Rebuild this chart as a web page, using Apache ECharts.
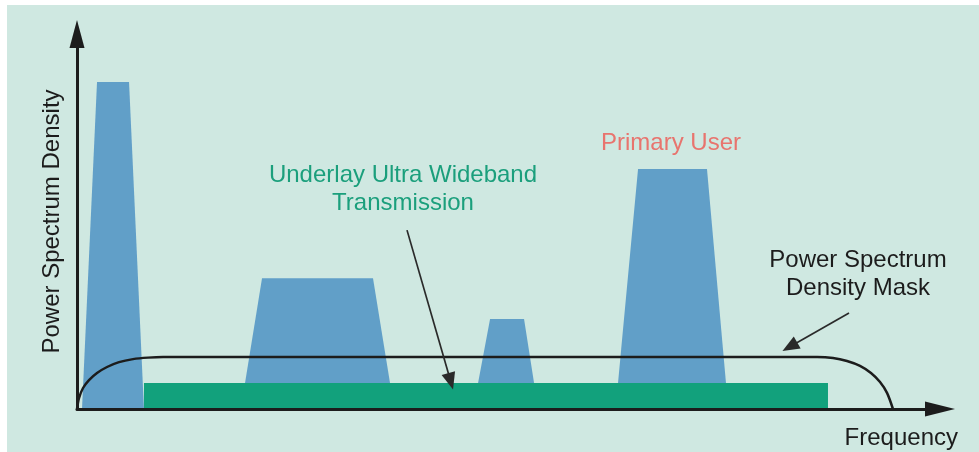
<!DOCTYPE html>
<html>
<head>
<meta charset="utf-8">
<script src="https://cdn.jsdelivr.net/npm/echarts@6/dist/echarts.min.js"></script>
<style>
html,body{margin:0;padding:0;background:#ffffff;}
#chart{width:979px;height:452px;}
</style>
</head>
<body>
<div id="chart"></div>
<script>
// Data (frequency units 0-100 on x, PSD units 0-100 on y)
const peakNarrowHigh = [[0.58, 0], [2.32, 87.2], [6.03, 87.2], [7.76, 0]];
const peakWide = [[19.47, 6.93], [21.44, 34.9], [34.30, 34.9], [36.27, 6.93]];
const peakSmall = [[46.47, 6.93], [47.86, 24.0], [51.80, 24.0], [52.96, 6.93]];
const peakPrimary = [[62.69, 6.93], [65.01, 64.0], [73.00, 64.0], [75.20, 6.93]];
const uwbBand = [[7.76, 6.93], [87.02, 6.93]];
const psdMask = [[0, 0], [0.23, 2.9], [0.70, 5.6], [1.39, 7.7], [2.32, 9.6], [3.48, 11.2], [4.87, 12.5], [6.49, 13.3], [8.23, 13.7], [9.97, 13.87], [85.75, 13.87], [87.60, 13.6], [89.22, 12.8], [90.73, 11.5], [92.00, 9.6], [93.05, 7.2], [93.86, 4.3], [94.55, 0]];
const maskArrow = [[89.46, 25.6], [82.60, 16.6]];
const uwbArrow = [[38.24, 47.7], [43.30, 7.4]];
const axisNames = ['Frequency', 'Power Spectrum Density'];
const labelPrimary = 'Primary User';
const labelUwb = 'Underlay Ultra Wideband\nTransmission';
const labelMask = 'Power Spectrum\nDensity Mask';

const FONT = '"Liberation Sans", Arial, Helvetica, sans-serif';
const BLUE = '#619fc8';
const GREEN = '#12a17c';
const DARK = '#1c1c1c';

function areaSeries(name, data, color, z) {
  return {
    name: name, type: 'line', data: data, z: z,
    showSymbol: false, symbol: 'none', silent: true,
    lineStyle: { width: 0 },
    areaStyle: { color: color, opacity: 1 },
    animation: false
  };
}

const chart = echarts.init(document.getElementById('chart'), null, { renderer: 'canvas' });
chart.setOption({
  animation: false,
  backgroundColor: '#cfe8e1',
  grid: { left: 77, right: 39, top: 34, bottom: 43 },
  xAxis: {
    type: 'value', min: 0, max: 100, z: 10,
    name: axisNames[0], nameLocation: 'end', nameGap: 18,
    nameTextStyle: { fontFamily: FONT, fontSize: 24, color: DARK, align: 'right', verticalAlign: 'top', padding: [17, 0, 0, 0] },
    axisLine: { show: true, symbol: ['none', 'triangle'], symbolSize: [15, 30], symbolOffset: [0, 0], lineStyle: { color: DARK, width: 3 } },
    axisTick: { show: false }, axisLabel: { show: false }, splitLine: { show: false }
  },
  yAxis: {
    type: 'value', min: 0, max: 100, z: 10,
    name: axisNames[1], nameLocation: 'middle', nameGap: 13, nameRotate: 90,
    nameTextStyle: { fontFamily: FONT, fontSize: 24, color: DARK },
    axisLine: { show: true, symbol: ['none', 'triangle'], symbolSize: [15, 28], symbolOffset: [0, 0], lineStyle: { color: DARK, width: 3 } },
    axisTick: { show: false }, axisLabel: { show: false }, splitLine: { show: false }
  },
  series: [
    areaSeries('peak1', peakNarrowHigh, BLUE, 2),
    areaSeries('peak2', peakWide, BLUE, 2),
    areaSeries('peak3', peakSmall, BLUE, 2),
    areaSeries('primary', peakPrimary, BLUE, 2),
    areaSeries('uwb', uwbBand, GREEN, 3),
    {
      name: 'mask', type: 'line', data: psdMask, z: 4,
      showSymbol: false, symbol: 'none', silent: true, smooth: 0.3,
      lineStyle: { color: DARK, width: 2.5 },
      markLine: {
        silent: true, symbol: ['none', 'triangle'], symbolSize: [14, 17],
        label: { show: false },
        lineStyle: { color: '#2a2a2a', width: 1.7, type: 'solid' },
        data: [
          [{ coord: maskArrow[0] }, { coord: maskArrow[1] }],
          [{ coord: uwbArrow[0] }, { coord: uwbArrow[1] }]
        ]
      }
    }
  ],
  graphic: [
    { type: 'rect', left: 0, top: 0, shape: { width: 7, height: 452 }, style: { fill: '#ffffff' }, silent: true },
    { type: 'rect', left: 0, top: 0, shape: { width: 979, height: 5 }, style: { fill: '#ffffff' }, silent: true },
    { type: 'text', x: 671, y: 143, silent: true,
      style: { text: labelPrimary, font: '24px ' + FONT, fill: '#e8746e', align: 'center', verticalAlign: 'middle' } },
    { type: 'text', x: 403, y: 189, silent: true,
      style: { text: labelUwb, font: '24px ' + FONT, fill: '#1b9f7c', align: 'center', verticalAlign: 'middle', lineHeight: 28 } },
    { type: 'text', x: 858, y: 274, silent: true,
      style: { text: labelMask, font: '24px ' + FONT, fill: DARK, align: 'center', verticalAlign: 'middle', lineHeight: 28 } }
  ]
});
</script>
</body>
</html>
